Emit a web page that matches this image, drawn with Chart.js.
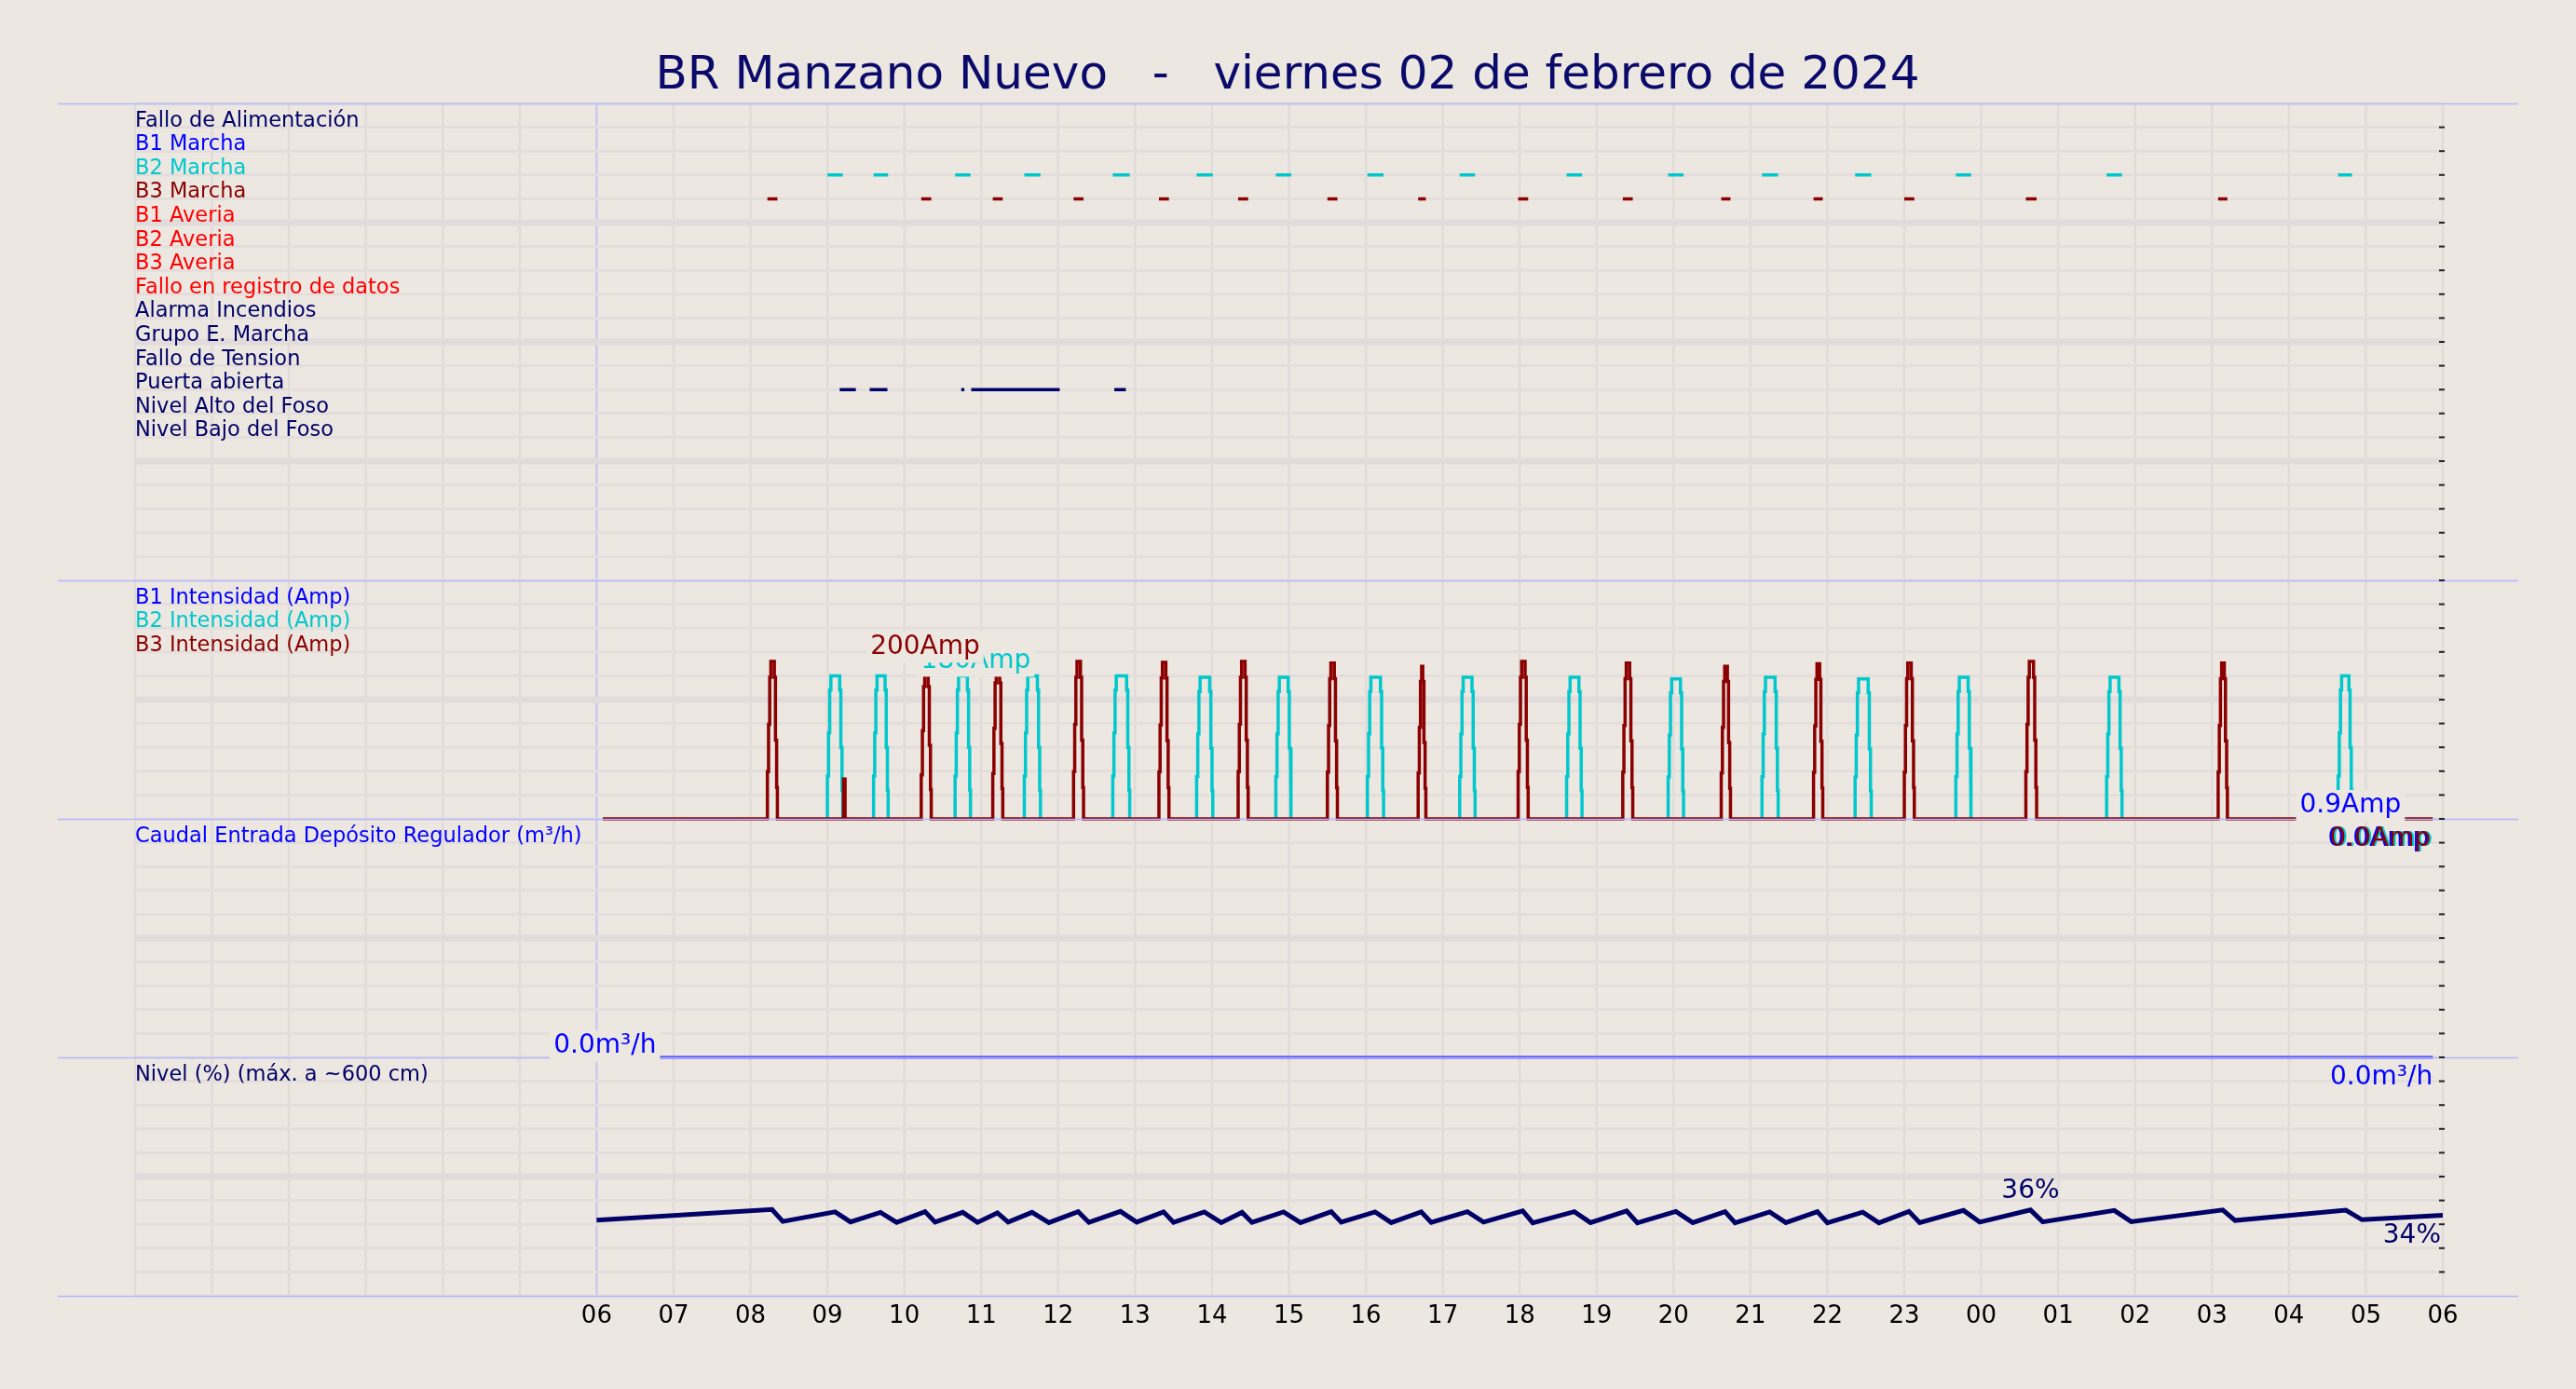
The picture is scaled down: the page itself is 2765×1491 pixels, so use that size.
<!DOCTYPE html>
<html><head><meta charset="utf-8">
<script src="https://cdn.jsdelivr.net/npm/chart.js@4/dist/chart.umd.min.js"></script>
<style>html,body{margin:0;padding:0;background:#ece7e1;}#c{display:block}</style>
</head><body>
<div style="width:2765px;height:1491px"><canvas id="c" width="2765" height="1491"></canvas></div>
<script>
// ---------- DATA ----------
const titleText = "BR Manzano Nuevo   -   viernes 02 de febrero de 2024";
const xTickLabels = ['06','07','08','09','10','11','12','13','14','15','16','17','18','19','20','21','22','23','00','01','02','03','04','05','06'];
const digitalLabels = ['Fallo de Alimentación','B1 Marcha','B2 Marcha','B3 Marcha','B1 Averia','B2 Averia','B3 Averia','Fallo en registro de datos','Alarma Incendios','Grupo E. Marcha','Fallo de Tension','Puerta abierta','Nivel Alto del Foso','Nivel Bajo del Foso'];
const digitalColors = ['#000066','#0000ff','#00c8cc','#8b0000','#ff0000','#ff0000','#ff0000','#ff0000','#000066','#000066','#000066','#000066','#000066','#000066'];
// pump pulses: start hour (after 06:00), duration hours, peak amps
const b2Start = [3.0,3.6,4.66,5.56,6.71,7.8,8.83,10.02,11.22,12.61,13.93,15.15,16.36,17.67,19.63,22.64];
const b2Dur   = [0.2,0.19,0.2,0.21,0.22,0.21,0.2,0.21,0.2,0.2,0.2,0.21,0.21,0.2,0.2,0.18];
const b2Peak  = [180,180,180,180,180,178,178,178,178,178,176,178,176,178,178,180];
const b3Start = [2.22,3.21,4.22,5.15,6.2,7.31,8.34,9.5,10.68,11.98,13.34,14.62,15.82,17.0,18.58,21.08];
const b3Dur   = [0.13,0.02,0.13,0.13,0.13,0.13,0.13,0.13,0.1,0.13,0.13,0.12,0.12,0.13,0.14,0.12];
const b3Peak  = [198,50,185,190,198,197,198,196,192,198,196,192,195,196,198,196];
const b3Marcha = [true,false,true,true,true,true,true,true,true,true,true,true,true,true,true,true];
// Puerta abierta intervals [start,end]
const puertaOn  = [3.16,3.55,4.74,4.87,6.73];
const puertaOff = [3.37,3.78,4.78,6.02,6.88];
// Nivel (%)
const nivelT = [0,2.28,2.42,3.1,3.3,3.69,3.9,4.27,4.4,4.76,4.95,5.21,5.35,5.66,5.88,6.26,6.4,6.81,7.02,7.37,7.5,7.9,8.12,8.39,8.52,8.93,9.15,9.55,9.68,10.12,10.33,10.72,10.85,11.32,11.53,12.04,12.17,12.71,12.92,13.39,13.53,14.03,14.25,14.67,14.8,15.25,15.46,15.87,16.0,16.46,16.67,17.06,17.2,17.77,17.98,18.64,18.8,19.73,19.95,21.14,21.3,22.74,22.95,24];
const nivelV = [31.7,36.2,31.2,35.2,31.0,35.0,30.8,35.3,30.9,35.0,30.8,34.8,30.9,35.0,30.7,35.3,30.8,35.4,30.9,35.2,30.8,35.2,30.7,35.0,30.8,35.2,30.7,35.3,30.9,35.2,30.7,35.2,30.8,35.3,30.9,35.6,30.6,35.3,30.7,35.6,30.6,35.4,30.7,35.3,30.6,35.2,30.7,35.3,30.6,35.1,30.6,35.4,30.7,35.8,30.9,36.0,31.0,35.8,31.1,36.0,31.6,35.9,31.9,33.8];
const caudalT = [0.8,23.87];
const caudalV = [0.0,0.0];
const intensStart = 0.08, intensEnd = 23.87;

// ---------- BUILD ----------
const C_B2='#00c8cc', C_B3='#8b0000', NAVY='#000066', BLUE='#0000ff';
const AMAX=300;
function pulseShape(s,d,p){
  const f=[[0,0],[0,0.3],[0.015,0.3],[0.015,0.6],[0.03,0.6],[0.03,0.9],[0.045,0.9],[0.045,1],[d-0.04,1],[d-0.04,0.9],[d-0.025,0.9],[d-0.025,0.5],[d-0.01,0.5],[d-0.01,0.2],[d,0.2],[d,0]];
  if(d<0.05) return [[s,0],[s,p],[s+d,p],[s+d,0]].map(a=>({x:a[0],y:2+a[1]/AMAX}));
  return f.map(a=>({x:s+a[0],y:2+a[1]*p/AMAX}));
}
const b3Pts=[{x:intensStart,y:2}];
b3Start.forEach((s,i)=>b3Pts.push(...pulseShape(s,b3Dur[i],b3Peak[i])));
b3Pts.push({x:intensEnd,y:2});
const b2Pts=[];
b2Start.forEach((s,i)=>{b2Pts.push(...pulseShape(s,b2Dur[i],b2Peak[i]));b2Pts.push({x:s+b2Dur[i]+0.001,y:null});});
const rowY=k=>5-(k+1)*0.1;
function segs(starts,ends,k,mask){const o=[];starts.forEach((s,i)=>{if(mask&&!mask[i])return;o.push({x:s,y:rowY(k)},{x:ends[i],y:rowY(k)},{x:ends[i]+0.001,y:null});});return o;}
const b2Marcha=segs(b2Start,b2Start.map((s,i)=>s+b2Dur[i]),2);
const b3MarchaPts=segs(b3Start,b3Start.map((s,i)=>s+b3Dur[i]),3,b3Marcha);
const puertaPts=segs(puertaOn,puertaOff,11);
const nivelPts=nivelT.map((t,i)=>({x:t,y:nivelV[i]/100}));
const caudalPts=caudalT.map((t,i)=>({x:t,y:1+caudalV[i]/10}));

const ds=(data,color,w)=>({data,borderColor:color,borderWidth:w,pointRadius:0,tension:0,spanGaps:false,fill:false});

const deco={
  id:'deco',
  beforeDraw(ch){const c=ch.ctx;c.save();c.fillStyle='#ece7e1';c.fillRect(0,0,ch.width,ch.height);c.restore();},
  beforeDatasetsDraw(ch){
    const c=ch.ctx,x=ch.scales.x,y=ch.scales.y,a=ch.chartArea;c.save();
    for(let h=-6;h<=24;h++){const px=x.getPixelForValue(h);c.strokeStyle=h===0?'#c4c4f0':'#e1dbd9';c.lineWidth=h===0?2:2.5;c.beginPath();c.moveTo(px,a.top);c.lineTo(px,a.bottom);c.stroke();}
    for(let i=0;i<=50;i++){const v=i/10;const py=y.getPixelForValue(v);const thick=(i%5===0)&&(i%10!==0)||i===40;c.strokeStyle=thick?'#e1dbdb':'#e3dedb';c.lineWidth=thick?7:3;c.beginPath();c.moveTo(a.left,py);c.lineTo(a.right,py);c.stroke();}
    c.restore();
  },
  afterDatasetsDraw(ch){
    const c=ch.ctx,x=ch.scales.x,y=ch.scales.y,a=ch.chartArea;c.save();
    c.strokeStyle='#b4b8ff';c.lineWidth=1.5;
    [0,1,2,3,5].forEach(v=>{const py=Math.round(y.getPixelForValue(v))+0.5;c.beginPath();c.moveTo(62,py);c.lineTo(2703,py);c.stroke();});
    c.strokeStyle='#222';c.lineWidth=2;
    for(let i=1;i<50;i++){const py=y.getPixelForValue(i/10);c.beginPath();c.moveTo(a.right-4,py);c.lineTo(a.right+2,py);c.stroke();}
    c.fillStyle='#0a0a6a';c.font='50px "DejaVu Sans"';c.textAlign='center';c.textBaseline='middle';
    c.fillText(titleText,1382,82);
    c.fillStyle='#000';c.font='26px "DejaVu Sans"';c.textBaseline='top';
    xTickLabels.forEach((t,i)=>c.fillText(t,x.getPixelForValue(i),1400));
    c.textAlign='left';c.textBaseline='alphabetic';c.font='22.5px "DejaVu Sans"';
    const lab=(t,col,v)=>{c.fillStyle=col;c.fillText(t,a.left,y.getPixelForValue(v)-1);};
    digitalLabels.forEach((t,k)=>lab(t,digitalColors[k],rowY(k)));
    lab('B1 Intensidad (Amp)',BLUE,2.9);lab('B2 Intensidad (Amp)',C_B2,2.8);lab('B3 Intensidad (Amp)',C_B3,2.7);
    lab('Caudal Entrada Depósito Regulador (m³/h)',BLUE,1.9);
    lab('Nivel (%) (máx. a ~600 cm)',NAVY,0.9);
    c.font='28px "DejaVu Sans"';
    const vl=(t,col,px,py,align,bg)=>{c.textAlign=align;c.textBaseline='middle';const w=c.measureText(t).width;let l=align==='right'?px-w:align==='center'?px-w/2:px;if(bg){c.fillStyle='#ece7e1';c.fillRect(l-4,py-17,w+8,34);}c.fillStyle=col;c.fillText(t,px,py);};
    vl('180Amp',C_B2,x.getPixelForValue(4.76)+14,y.getPixelForValue(2+180/AMAX)-16,'center',true);
    vl('200Amp',C_B3,x.getPixelForValue(4.27),y.getPixelForValue(2+200/AMAX)-14,'center',true);
    vl('0.9Amp',BLUE,x.getPixelForValue(intensEnd)-34,y.getPixelForValue(2)-14,'right',true);
    const r0=x.getPixelForValue(intensEnd);const py0=y.getPixelForValue(2)+22;
    vl('0.0Amp',BLUE,r0-4,py0,'right',false);vl('0.0Amp',C_B2,r0,py0,'right',false);vl('0.0Amp',C_B3,r0-2,py0,'right',false);
    vl('0.0m³/h',BLUE,x.getPixelForValue(caudalT[0])-2,y.getPixelForValue(1)-12,'right',true);
    vl('0.0m³/h',BLUE,x.getPixelForValue(caudalT[caudalT.length-1]),y.getPixelForValue(1)+22,'right',false);
    vl('36%',NAVY,x.getPixelForValue(18.64),y.getPixelForValue(0.36)-20,'center',false);
    vl('34%',NAVY,x.getPixelForValue(24)-2,y.getPixelForValue(0.338)+22,'right',false);
    c.restore();
  }
};

new Chart(document.getElementById('c'),{
  type:'line',
  data:{datasets:[
    ds(caudalPts,'#3333ff',3),
    ds(b3Pts,C_B3,3.5),
    ds(b2Pts,C_B2,3.5),
    ds(b2Marcha,C_B2,3.5),
    ds(b3MarchaPts,C_B3,3.5),
    ds(puertaPts,NAVY,3.5),
    ds(nivelPts,NAVY,5)
  ]},
  options:{
    responsive:false,animation:false,
    layout:{padding:{left:145,right:143,top:111,bottom:100}},
    plugins:{legend:{display:false},tooltip:{enabled:false}},
    scales:{
      x:{type:'linear',min:-6,max:24,display:false},
      y:{type:'linear',min:0,max:5,display:false}
    }
  },
  plugins:[deco]
});
</script>
</body></html>
